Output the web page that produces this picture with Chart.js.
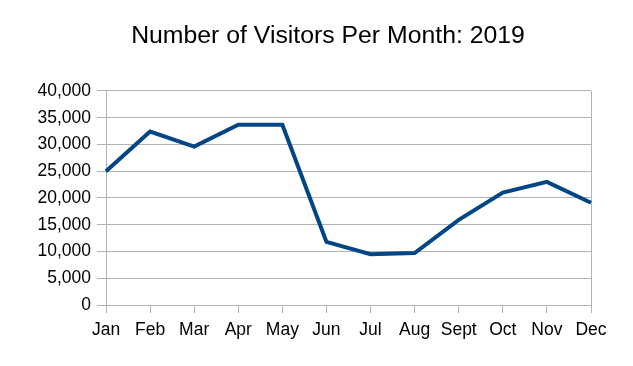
<!DOCTYPE html>
<html>
<head>
<meta charset="utf-8">
<title>Number of Visitors Per Month: 2019</title>
<script src="https://cdn.jsdelivr.net/npm/chart.js@4/dist/chart.umd.min.js"></script>
<style>
  html, body { margin: 0; padding: 0; background: #fff; }
  #wrap { width: 633px; height: 366px; }
</style>
</head>
<body>
<div id="wrap"><canvas id="visitorsChart" width="633" height="366"></canvas></div>
<script>
// Chart data
var months = ['Jan', 'Feb', 'Mar', 'Apr', 'May', 'Jun', 'Jul', 'Aug', 'Sept', 'Oct', 'Nov', 'Dec'];
var visitors = [25000, 32400, 29600, 33700, 33700, 11800, 9500, 9700, 15900, 21000, 23000, 19100];
var yMin = 0;
var yMax = 40000;
var yStep = 5000;

Chart.defaults.font.family = "'Liberation Sans', Arial, sans-serif";
Chart.defaults.color = '#000000';

var gridGrey = '#b3b3b3';

new Chart(document.getElementById('visitorsChart').getContext('2d'), {
    type: 'line',
    data: {
        labels: months,
        datasets: [{
            label: 'Visitors',
            data: visitors,
            yAxisID: 'y',
            borderColor: '#004586',
            backgroundColor: '#004586',
            borderWidth: 4,
            pointRadius: 0,
            tension: 0,
            fill: false
        }]
    },
    options: {
        responsive: false,
        animation: false,
        layout: { padding: { left: 23, right: 0, top: 0, bottom: 0 } },
        plugins: {
            legend: { display: false },
            tooltip: { enabled: false },
            title: {
                display: true,
                text: 'Number of Visitors Per Month: 2019',
                color: '#000000',
                font: { size: 24.8, weight: 'normal' },
                padding: { top: 21, bottom: 40.2 }
            }
        },
        scales: {
            x: {
                offset: false,
                grid: {
                    drawOnChartArea: true,
                    color: function(ctx) { return ctx.index === months.length - 1 ? gridGrey : 'rgba(0,0,0,0)'; },
                    tickColor: gridGrey,
                    tickLength: 8,
                    lineWidth: 1
                },
                border: { display: true, color: gridGrey },
                ticks: { font: { size: 17.5 }, padding: 7, maxRotation: 0, autoSkip: false },
                afterFit: function(scale) { scale.height = 61; }
            },
            y: {
                min: yMin,
                max: yMax,
                grid: { color: gridGrey, tickLength: 9 },
                border: { display: true, color: gridGrey },
                ticks: {
                    stepSize: yStep,
                    font: { size: 17.5 },
                    padding: 6,
                    callback: function(v) { return v.toLocaleString('en-US'); }
                },
                afterFit: function(scale) { scale.width = 83; }
            },
            // empty right axis, only keeps the plot's right edge where the reference has it
            yRight: {
                position: 'right',
                min: yMin,
                max: yMax,
                grid: { display: false },
                border: { display: false },
                ticks: { display: false },
                afterFit: function(scale) { scale.width = 42; }
            }
        }
    }
});
</script>
</body>
</html>
